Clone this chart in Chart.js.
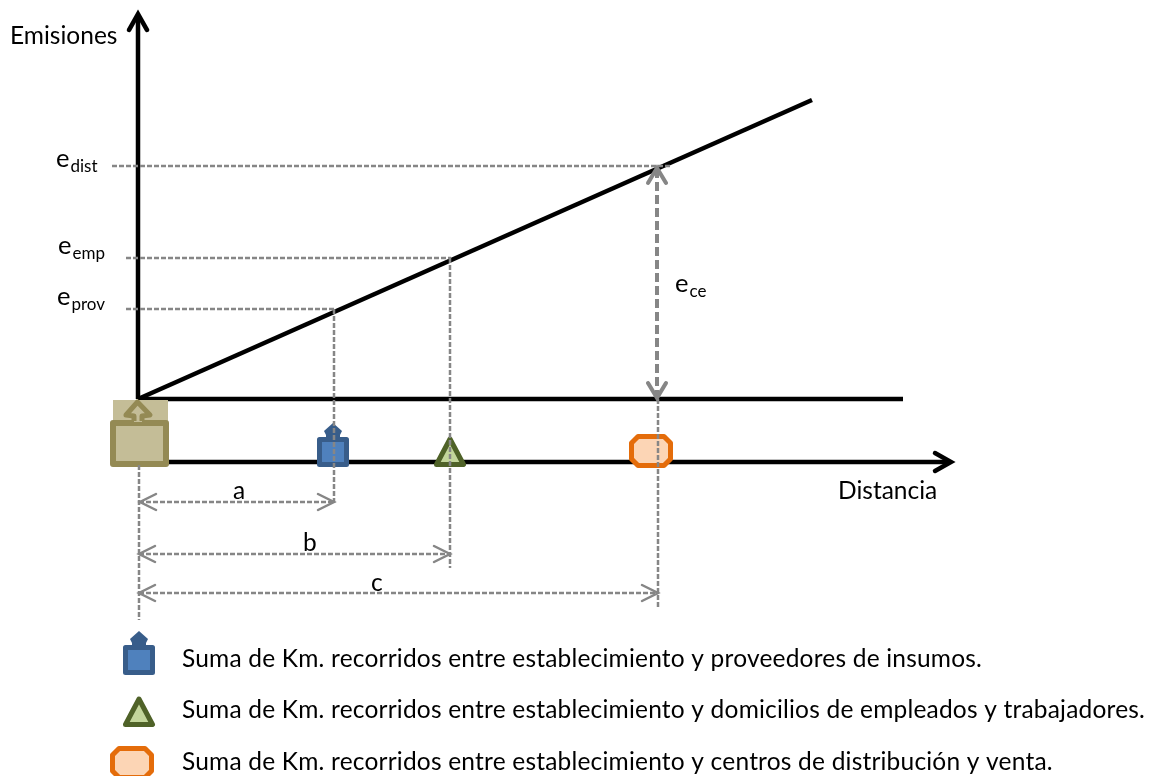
<!DOCTYPE html>
<html>
<head>
<meta charset="utf-8">
<script src="https://cdn.jsdelivr.net/npm/chart.js@4/dist/chart.umd.min.js"></script>
<style>
    html, body { margin: 0; padding: 0; background: #fff; overflow: hidden; }
    canvas { display: block; }
</style>
</head>
<body>
<canvas id="chart" width="1154" height="776"></canvas>
<script>
const distA = 196
const distB = 312
const distC = 520
const emisProv = 90
const emisEmp = 141
const emisDist = 233
const ejeDistancia = -63

const ejeEmisiones = [{ x: 0, y: 0 }, { x: 0, y: 384 }]
const lineaBase = [{ x: 0, y: 0 }, { x: 765, y: 0 }]
const lineaEmisiones = [{ x: 0, y: 0 }, { x: 674, y: 299 }]
const lineaDistancia = [{ x: 30, y: ejeDistancia }, { x: 812, y: ejeDistancia }]

const guiaProvH = [{ x: -12, y: emisProv }, { x: distA, y: emisProv }]
const guiaProvV = [{ x: distA, y: emisProv }, { x: distA, y: -104 }]
const guiaEmpH = [{ x: -12, y: emisEmp }, { x: distB + 1, y: emisEmp }]
const guiaEmpV = [{ x: distB, y: emisEmp }, { x: distB, y: -169 }]
const guiaDistH = [{ x: -26, y: emisDist }, { x: 533, y: emisDist }]
const guiaDistV = [{ x: distC, y: 0 }, { x: distC, y: -209 }]
const guiaOrigen = [{ x: 1, y: -66 }, { x: 1, y: -221 }]
const cotaA = [{ x: 1, y: -103 }, { x: distA, y: -103 }]
const cotaB = [{ x: 1, y: -155 }, { x: distB, y: -155 }]
const cotaC = [{ x: 1, y: -194 }, { x: distC, y: -194 }]
const cotaCe = [{ x: distC - 1, y: emisDist - 3 }, { x: distC - 1, y: 2 }]

const marcadores = [
    { x: 1, y: ejeDistancia, icon: 'origen' },
    { x: 195, y: ejeDistancia, icon: 'prov' },
    { x: 312, y: ejeDistancia, icon: 'emp' },
    { x: 513, y: ejeDistancia, icon: 'dist' },
    { x: 1, y: -271, icon: 'prov' },
    { x: 1, y: -323, icon: 'emp' },
    { x: -6, y: -375, icon: 'dist' },
]

const textos = ['Emisiones', 'Distancia', 'a', 'b', 'c']
const textosX = [-128, 700, 95, 165, 233]
const textosY = [355, -100, -100, -152, -192]

const simbolos = ['dist', 'emp', 'prov', 'ce']
const simbolosX = [-82, -80, -81, 537]
const simbolosY = [232, 145, 94, 107]

const leyenda = [
    'Suma de Km. recorridos entre establecimiento y proveedores de insumos.',
    'Suma de Km. recorridos entre establecimiento y domicilios de empleados y trabajadores.',
    'Suma de Km. recorridos entre establecimiento y centros de distribución y venta.',
]
const leyendaY = [-268, -319, -371]

const negro = '#000000'
const gris = '#868686'
const fuente = 'Lato, Carlito, sans-serif'

function lienzo(dibujar, w = 100, h = 160) {
    const c = document.createElement('canvas')
    c.width = w
    c.height = h
    const g = c.getContext('2d')
    g.translate(w / 2, h / 2)
    g.lineJoin = 'round'
    dibujar(g)
    return c
}

function poly(g, pts, fill, stroke, lw) {
    g.beginPath()
    pts.forEach((p, i) => (i ? g.lineTo(p[0], p[1]) : g.moveTo(p[0], p[1])))
    if (fill) {
        g.closePath()
        g.fillStyle = fill
        g.fill()
    }
    if (stroke) {
        g.strokeStyle = stroke
        g.lineWidth = lw
        g.stroke()
    }
}

const iconos = {
    origen: lienzo((g) => {
        g.fillStyle = '#c4bd97'
        g.fillRect(-26, -62, 55, 22)
        poly(g, [[-26, -39], [27, -39], [27, 2], [-26, 2]], '#c4bd97', '#948a54', 6)
        poly(g, [[-5, -40], [-5, -48], [-14, -49], [-1.5, -61], [11, -49], [3, -48], [3, -40]], '#c4bd97', null)
        poly(g, [[-5, -41], [-5, -46], [-13, -47], [-1.5, -60], [11, -47], [3, -46], [3, -41]], null, '#948a54', 5)
    }),
    prov: lienzo((g) => {
        poly(g, [[0, -39], [-9, -31], [-7, -27], [-7, -23], [7, -23], [7, -27], [9, -31]], '#385d8a', null)
        poly(g, [[-13.5, -22.5], [13.5, -22.5], [13.5, 2.5], [-13.5, 2.5]], '#4f81bd', '#385d8a', 5)
    }),
    emp: lienzo((g) => {
        poly(g, [[0, -23], [13.5, 2.5], [-13.5, 2.5]], '#c3d69b', '#4f6228', 5)
    }),
    dist: lienzo((g) => {
        poly(g, [[-13, -25.5], [13, -25.5], [19.5, -19], [19.5, -3], [13, 3.5], [-13, 3.5], [-19.5, -3], [-19.5, -19]], '#fcd5b5', '#e46c0a', 5)
    }),
}

// chevron, tip at the middle of the canvas, pointing right
function punta(color, largo, medio, lw) {
    return lienzo((g) => {
        g.lineJoin = 'miter'
        g.lineCap = 'round'
        poly(g, [[-largo, -medio], [0, 0], [-largo, medio]], null, color, lw)
    }, 50, 50)
}
const puntaNegra = punta(negro, 16, 9, 4.5)
const puntaCota = punta(gris, 16, 8, 2.5)
const puntaCe = punta(gris, 15, 9, 4)

const puntas = [
    { x: 0, y: 385, img: puntaNegra, rot: -90 },
    { x: 813, y: ejeDistancia, img: puntaNegra, rot: 0 },
    { x: 2, y: -103, img: puntaCota, rot: 180 },
    { x: distA, y: -103, img: puntaCota, rot: 0 },
    { x: 1, y: -155, img: puntaCota, rot: 180 },
    { x: distB, y: -155, img: puntaCota, rot: 0 },
    { x: 1, y: -194, img: puntaCota, rot: 180 },
    { x: distC, y: -194, img: puntaCota, rot: 0 },
    { x: distC - 1, y: emisDist - 2, img: puntaCe, rot: -90 },
    { x: distC - 1, y: 1, img: puntaCe, rot: 90 },
]

const solida = (data) => ({
    data,
    showLine: true,
    borderColor: negro,
    borderWidth: 4.5,
    pointRadius: 0,
    order: 4,
})
const guia = (data) => ({
    data,
    showLine: true,
    borderColor: gris,
    borderWidth: 2.5,
    borderDash: [5, 2],
    pointRadius: 0,
    order: 2,
})

const textPlugin = {
    id: 'textos',
    afterDraw(chart) {
        const { ctx, scales } = chart
        const px = (v) => scales.x.getPixelForValue(v)
        const py = (v) => scales.y.getPixelForValue(v)
        ctx.save()
        ctx.fillStyle = negro
        ctx.textBaseline = 'alphabetic'
        ctx.font = `24.5px ${fuente}`
        textos.forEach((t, i) => ctx.fillText(t, px(textosX[i]), py(textosY[i])))
        simbolos.forEach((t, i) => {
            ctx.font = `25.5px ${fuente}`
            const x = px(simbolosX[i])
            const y = py(simbolosY[i])
            ctx.fillText('e', x, y)
            const ancho = ctx.measureText('e').width
            ctx.font = `17px ${fuente}`
            ctx.fillText(t, x + ancho + 1, y + 5)
        })
        ctx.font = `24.5px ${fuente}`
        ctx.letterSpacing = '0.2px'
        leyenda.forEach((t, i) => ctx.fillText(t, px(44), py(leyendaY[i])))
        ctx.restore()
    },
}

new Chart(document.getElementById('chart'), {
    type: 'scatter',
    data: {
        datasets: [
            solida(ejeEmisiones),
            solida(lineaBase),
            solida(lineaEmisiones),
            solida(lineaDistancia),
            guia(guiaProvH),
            guia(guiaProvV),
            guia(guiaEmpH),
            guia(guiaEmpV),
            guia(guiaDistH),
            guia(guiaDistV),
            guia(guiaOrigen),
            guia(cotaA),
            guia(cotaB),
            guia(cotaC),
            { ...guia(cotaCe), borderWidth: 4, borderDash: [9, 4] },
            {
                data: marcadores,
                pointStyle: (c) => iconos[marcadores[c.dataIndex].icon],
                pointRadius: 10,
                order: 3,
                clip: false,
            },
            {
                data: puntas,
                pointStyle: (c) => puntas[c.dataIndex].img,
                pointRotation: (c) => puntas[c.dataIndex].rot,
                pointRadius: 10,
                order: 1,
                clip: false,
            },
        ],
    },
    options: {
        responsive: false,
        animation: false,
        events: [],
        layout: { padding: 0, autoPadding: false },
        scales: {
            x: { type: 'linear', display: false, min: -138, max: 1016 },
            y: { type: 'linear', display: false, min: -377, max: 399 },
        },
        plugins: {
            legend: { display: false },
            tooltip: { enabled: false },
            title: { display: false },
        },
    },
    plugins: [textPlugin],
})
</script>
</body>
</html>
